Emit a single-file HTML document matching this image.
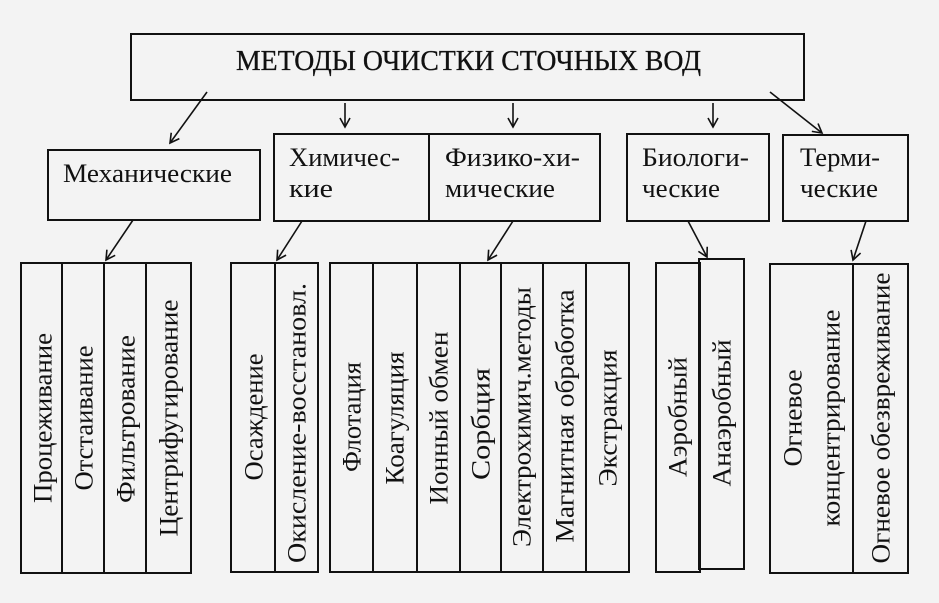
<!DOCTYPE html>
<html><head><meta charset="utf-8"><style>
html,body{margin:0;padding:0;background:#f3f3f3;}
svg{display:block;}
text{font-family:"Liberation Serif",serif;fill:#111;}
</style></head><body>
<svg width="939" height="603" viewBox="0 0 939 603" xmlns="http://www.w3.org/2000/svg">
<rect width="939" height="603" fill="#f3f3f3"/>
<defs><marker id="a" markerWidth="12" markerHeight="12" refX="10" refY="6" orient="auto" markerUnits="userSpaceOnUse"><path d="M1,1 L10,6 L1,11" fill="none" stroke="#111" stroke-width="1.6"/></marker></defs>
<g fill="none" stroke="#111" stroke-width="2">
<rect x="131" y="34" width="673" height="66"/>
<rect x="48" y="150" width="212" height="70"/>
<rect x="274" y="134" width="155" height="87"/>
<rect x="429" y="134" width="171" height="87"/>
<rect x="627" y="134" width="142" height="87"/>
<rect x="783" y="135" width="125" height="86"/>
<rect x="21" y="263" width="170" height="310"/>
<line x1="62" y1="263" x2="62" y2="573"/><line x1="104" y1="263" x2="104" y2="573"/><line x1="146" y1="263" x2="146" y2="573"/>
<rect x="231" y="263" width="87" height="309"/>
<line x1="275" y1="263" x2="275" y2="572"/>
<rect x="330" y="263" width="299" height="309"/>
<line x1="373" y1="263" x2="373" y2="572"/><line x1="417" y1="263" x2="417" y2="572"/><line x1="460" y1="263" x2="460" y2="572"/><line x1="501" y1="263" x2="501" y2="572"/><line x1="543" y1="263" x2="543" y2="572"/><line x1="586" y1="263" x2="586" y2="572"/>
<rect x="656" y="263" width="44" height="309"/>
<rect x="699" y="259" width="45" height="310"/>
<rect x="770" y="264" width="138" height="309"/>
<line x1="853" y1="264" x2="853" y2="573"/>
</g>
<g stroke="#111" stroke-width="1.6" marker-end="url(#a)">
<line x1="207" y1="92" x2="170" y2="143"/>
<line x1="345" y1="103" x2="345" y2="127"/>
<line x1="513" y1="103" x2="513" y2="127"/>
<line x1="713" y1="103" x2="713" y2="127"/>
<line x1="770" y1="92" x2="822" y2="133"/>
<line x1="133" y1="220" x2="106" y2="260"/>
<line x1="302" y1="221" x2="277" y2="260"/>
<line x1="513" y1="221" x2="488" y2="260"/>
<line x1="688" y1="221" x2="707" y2="257"/>
<line x1="866" y1="221" x2="853" y2="260"/>
</g>
<text x="236" y="70" font-size="28" stroke="#111" stroke-width="0.3" textLength="465" lengthAdjust="spacingAndGlyphs">МЕТОДЫ ОЧИСТКИ СТОЧНЫХ ВОД</text>
<g font-size="26">
<text x="63" y="182" textLength="169" lengthAdjust="spacingAndGlyphs">Механические</text>
<text x="289" y="166" textLength="111" lengthAdjust="spacingAndGlyphs">Химичес-</text>
<text x="289" y="197" textLength="44" lengthAdjust="spacingAndGlyphs">кие</text>
<text x="445" y="166" textLength="135" lengthAdjust="spacingAndGlyphs">Физико-хи-</text>
<text x="445" y="197" textLength="110" lengthAdjust="spacingAndGlyphs">мические</text>
<text x="642" y="166" textLength="107" lengthAdjust="spacingAndGlyphs">Биологи-</text>
<text x="642" y="197" textLength="78" lengthAdjust="spacingAndGlyphs">ческие</text>
<text x="800" y="166" textLength="80" lengthAdjust="spacingAndGlyphs">Терми-</text>
<text x="800" y="197" textLength="78" lengthAdjust="spacingAndGlyphs">ческие</text>
</g>
<g font-size="26" text-anchor="middle" dominant-baseline="central">
<text transform="translate(43,418) rotate(-90)" textLength="170" lengthAdjust="spacingAndGlyphs">Процеживание</text>
<text transform="translate(84,418) rotate(-90)" textLength="145" lengthAdjust="spacingAndGlyphs">Отстаивание</text>
<text transform="translate(126,419) rotate(-90)" textLength="168" lengthAdjust="spacingAndGlyphs">Фильтрование</text>
<text transform="translate(169,418) rotate(-90)" textLength="237" lengthAdjust="spacingAndGlyphs">Центрифугирование</text>
<text transform="translate(254,417) rotate(-90)" textLength="127" lengthAdjust="spacingAndGlyphs">Осаждение</text>
<text transform="translate(297,423) rotate(-90)" textLength="280" lengthAdjust="spacingAndGlyphs">Окисление-восстановл.</text>
<text transform="translate(352,417) rotate(-90)" textLength="110" lengthAdjust="spacingAndGlyphs">Флотация</text>
<text transform="translate(395,418) rotate(-90)" textLength="133" lengthAdjust="spacingAndGlyphs">Коагуляция</text>
<text transform="translate(439,418) rotate(-90)" textLength="173" lengthAdjust="spacingAndGlyphs">Ионный обмен</text>
<text transform="translate(481,424) rotate(-90)" textLength="112" lengthAdjust="spacingAndGlyphs">Сорбция</text>
<text transform="translate(522,417) rotate(-90)" textLength="260" lengthAdjust="spacingAndGlyphs">Электрохимич.методы</text>
<text transform="translate(565,416) rotate(-90)" textLength="253" lengthAdjust="spacingAndGlyphs">Магнитная обработка</text>
<text transform="translate(608,418) rotate(-90)" textLength="137" lengthAdjust="spacingAndGlyphs">Экстракция</text>
<text transform="translate(678,417) rotate(-90)" textLength="120" lengthAdjust="spacingAndGlyphs">Аэробный</text>
<text transform="translate(722,413) rotate(-90)" textLength="147" lengthAdjust="spacingAndGlyphs">Анаэробный</text>
<text transform="translate(793,418) rotate(-90)" textLength="97" lengthAdjust="spacingAndGlyphs">Огневое</text>
<text transform="translate(831,418) rotate(-90)" textLength="217" lengthAdjust="spacingAndGlyphs">концентрирование</text>
<text transform="translate(881,418) rotate(-90)" textLength="291" lengthAdjust="spacingAndGlyphs">Огневое обезвреживание</text>
</g>
</svg>
</body></html>
